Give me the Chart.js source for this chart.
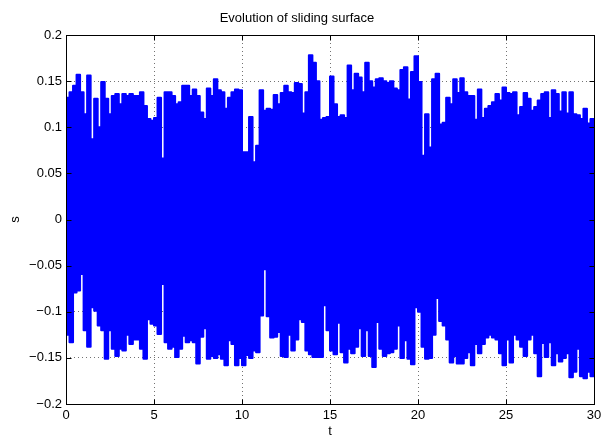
<!DOCTYPE html>
<html>
<head>
<meta charset="utf-8">
<script src="https://cdn.jsdelivr.net/npm/chart.js@4/dist/chart.umd.min.js"></script>
<style>
  html, body { margin: 0; padding: 0; background: #ffffff; }
  #wrap { width: 610px; height: 441px; }
</style>
</head>
<body>
<div id="wrap"><canvas id="c" width="610" height="441"></canvas></div>
<script>
// ---- data ----
const chartTitle = "Evolution of sliding surface";
const xLabel = "t";
const yLabel = "s";
const timeStep = 0.2;       // width of each envelope step (s)
const tStart = 0;
const tEnd = 30;
const xTicks = [0, 5, 10, 15, 20, 25, 30];
const yTicks = [-0.2, -0.15, -0.1, -0.05, 0, 0.05, 0.1, 0.15, 0.2];

// upper envelope of s(t), one value per 0.2 s step
const sUpper = [
  0.132,0.138,0.145,0.157,0.138,0.114,0.156,0.087,0.131,0.100,
  0.149,0.131,0.114,0.134,0.136,0.125,0.136,0.134,0.136,0.134,
  0.134,0.138,0.123,0.109,0.107,0.110,0.132,0.066,0.138,0.138,
  0.134,0.125,0.127,0.145,0.145,0.134,0.141,0.134,0.116,0.109,
  0.142,0.134,0.152,0.140,0.138,0.120,0.132,0.138,0.141,0.140,
  0.073,0.073,0.111,0.062,0.080,0.140,0.118,0.120,0.119,0.135,
  0.125,0.137,0.145,0.138,0.137,0.148,0.147,0.115,0.138,0.178,
  0.170,0.150,0.108,0.110,0.111,0.155,0.125,0.111,0.113,0.110,
  0.167,0.140,0.158,0.154,0.138,0.170,0.150,0.143,0.152,0.153,
  0.150,0.148,0.150,0.142,0.140,0.162,0.165,0.130,0.160,0.177,
  0.149,0.069,0.114,0.078,0.152,0.158,0.103,0.105,0.132,0.125,
  0.152,0.137,0.153,0.138,0.134,0.134,0.108,0.141,0.110,0.120,
  0.123,0.127,0.136,0.129,0.143,0.137,0.136,0.138,0.113,0.122,
  0.137,0.131,0.118,0.122,0.129,0.136,0.138,0.110,0.140,0.136,
  0.117,0.138,0.115,0.138,0.114,0.113,0.109,0.120,0.104,0.109
];

// lower envelope of s(t), one value per 0.2 s step
const sLower = [
  -0.125,-0.133,-0.079,-0.077,-0.059,-0.120,-0.138,-0.095,-0.099,-0.115,
  -0.120,-0.151,-0.120,-0.140,-0.148,-0.140,-0.142,-0.125,-0.135,-0.130,
  -0.130,-0.140,-0.151,-0.108,-0.113,-0.115,-0.124,-0.070,-0.133,-0.140,
  -0.138,-0.149,-0.140,-0.126,-0.133,-0.131,-0.133,-0.156,-0.127,-0.118,
  -0.151,-0.148,-0.150,-0.146,-0.151,-0.158,-0.131,-0.135,-0.158,-0.150,
  -0.158,-0.147,-0.150,-0.142,-0.144,-0.104,-0.054,-0.105,-0.128,-0.127,
  -0.122,-0.148,-0.149,-0.125,-0.142,-0.130,-0.108,-0.111,-0.142,-0.146,
  -0.149,-0.149,-0.149,-0.093,-0.120,-0.142,-0.146,-0.112,-0.144,-0.155,
  -0.140,-0.145,-0.138,-0.118,-0.148,-0.120,-0.148,-0.160,-0.111,-0.140,
  -0.148,-0.145,-0.144,-0.140,-0.115,-0.150,-0.131,-0.151,-0.157,-0.095,
  -0.100,-0.138,-0.151,-0.150,-0.125,-0.085,-0.110,-0.115,-0.130,-0.155,
  -0.148,-0.156,-0.156,-0.150,-0.144,-0.158,-0.135,-0.145,-0.135,-0.128,
  -0.125,-0.128,-0.130,-0.145,-0.158,-0.130,-0.155,-0.125,-0.130,-0.138,
  -0.148,-0.130,-0.125,-0.145,-0.170,-0.134,-0.149,-0.133,-0.158,-0.145,
  -0.154,-0.150,-0.145,-0.171,-0.165,-0.140,-0.170,-0.172,-0.165,-0.170
];

// ---- build point lists (step starts, plus closing point at tEnd) ----
function toPoints(vals) {
  const pts = vals.map((v, i) => ({ x: +(tStart + i * timeStep).toFixed(3), y: v }));
  pts.push({ x: tEnd, y: vals[vals.length - 1] });
  return pts;
}

const FONT = "'Liberation Sans', Arial, Helvetica, sans-serif";
const BLUE = '#0000ff';

const framePlugin = {
  id: 'matlabFrame',
  afterDatasetsDraw(chart) {
    const { ctx, chartArea: a, scales } = chart;
    const L = Math.round(a.left) + 0.5, R = Math.round(a.right) + 0.5;
    const T = Math.round(a.top) + 0.5, B = Math.round(a.bottom) + 0.5;
    ctx.save();
    ctx.strokeStyle = '#000';
    ctx.lineWidth = 1;
    ctx.setLineDash([]);
    ctx.beginPath();
    const tl = 5;
    scales.x.ticks.forEach(t => {
      const px = Math.round(scales.x.getPixelForValue(t.value)) + 0.5;
      ctx.moveTo(px, B); ctx.lineTo(px, B - tl);
      ctx.moveTo(px, T); ctx.lineTo(px, T + tl);
    });
    scales.y.ticks.forEach(t => {
      const py = Math.round(scales.y.getPixelForValue(t.value)) + 0.5;
      ctx.moveTo(L, py); ctx.lineTo(L + tl, py);
      ctx.moveTo(R, py); ctx.lineTo(R - tl, py);
    });
    ctx.stroke();
    ctx.strokeRect(L, T, R - L, B - T);
    ctx.restore();
  }
};

new Chart(document.getElementById('c'), {
  type: 'line',
  data: {
    datasets: [
      { label: 'upper', data: toPoints(sUpper), borderColor: BLUE, backgroundColor: BLUE,
        borderWidth: 2, pointRadius: 0, stepped: true, fill: false, borderJoinStyle: 'round' },
      { label: 'lower', data: toPoints(sLower), borderColor: BLUE, backgroundColor: BLUE,
        borderWidth: 2, pointRadius: 0, stepped: true, fill: '-1', borderJoinStyle: 'round' }
    ]
  },
  options: {
    responsive: false,
    animation: false,
    devicePixelRatio: 1,
    layout: { padding: { left: 0, right: 16, top: 0, bottom: 0 } },
    plugins: {
      legend: { display: false },
      tooltip: { enabled: false },
      title: {
        display: true, text: chartTitle, color: '#000',
        font: { family: FONT, size: 13, weight: 'normal' },
        padding: { top: 11, bottom: 8.4 }
      }
    },
    scales: {
      x: {
        type: 'linear', min: tStart, max: tEnd,
        afterBuildTicks: s => { s.ticks = xTicks.map(v => ({ value: v })); },
        afterFit: s => { s.height = 37; },
        ticks: { color: '#000', font: { family: FONT, size: 13 }, padding: 4, maxRotation: 0,
                 callback: v => String(v) },
        grid: { color: 'rgba(0,0,0,0.55)', lineWidth: 1, drawTicks: false },
        border: { display: false, dash: [1, 3] },
        title: { display: true, text: xLabel, color: '#000', font: { family: FONT, size: 13 },
                 padding: { top: 0, bottom: 2 } }
      },
      y: {
        type: 'linear', min: -0.2, max: 0.2,
        afterBuildTicks: s => { s.ticks = yTicks.map(v => ({ value: v })); },
        afterFit: s => { s.width = 66; },
        ticks: { color: '#000', font: { family: FONT, size: 13 }, padding: 4,
                 callback: v => { const r = Math.round(v * 100) / 100; return r < 0 ? '\u2212' + String(-r) : String(r); } },
        grid: { color: 'rgba(0,0,0,0.55)', lineWidth: 1, drawTicks: false },
        border: { display: false, dash: [1, 3] },
        title: { display: true, text: yLabel, color: '#000', font: { family: FONT, size: 13 },
                 padding: { top: 8, bottom: 0 } }
      }
    }
  },
  plugins: [framePlugin]
});
</script>
</body>
</html>
